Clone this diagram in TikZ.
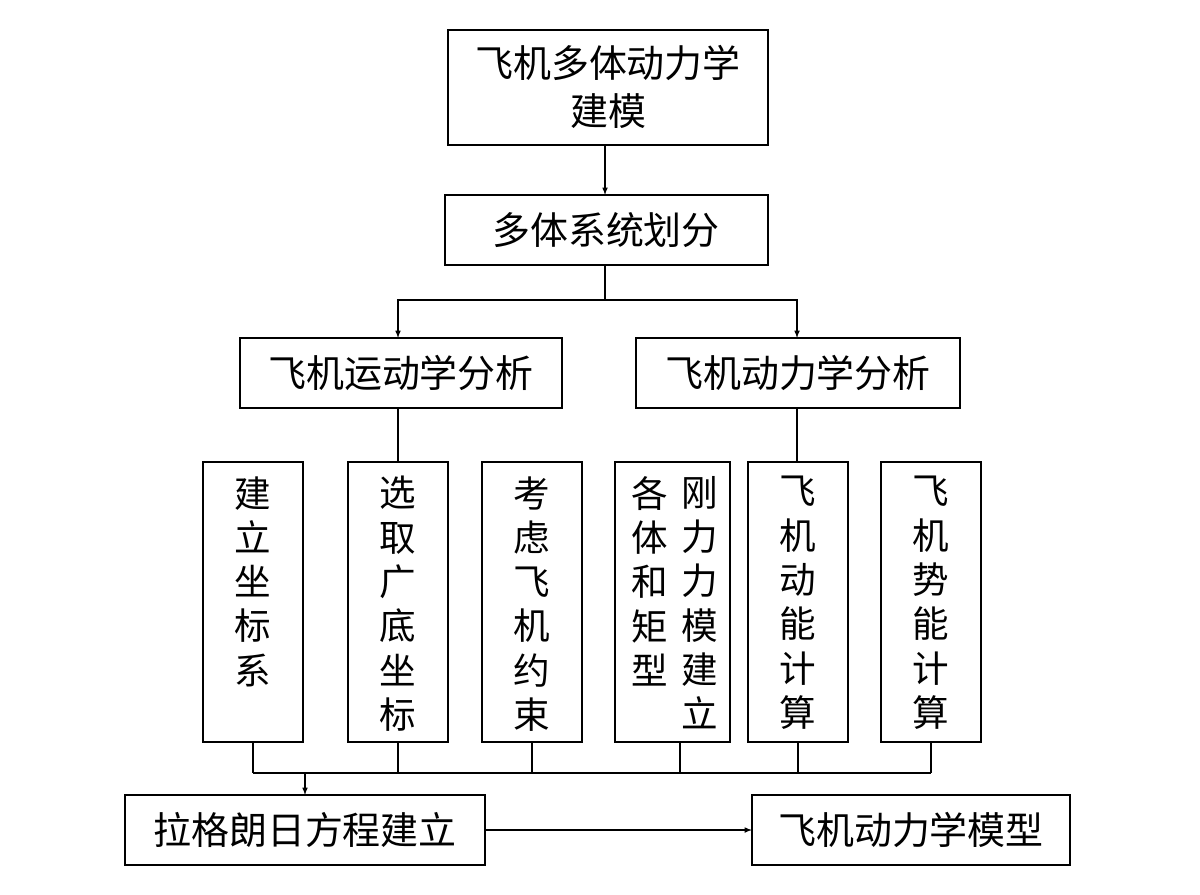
\documentclass[tikz,border=0pt]{standalone}
\usepackage{fontspec}
\setmainfont{Noto Sans CJK SC}
\begin{document}
\begin{tikzpicture}[x=0.025cm,y=-0.025cm,
 bx/.style={draw,line width=1.4pt},
 ln/.style={line width=0.8pt},
 ar/.style={ln,-latex},
 tx/.style={font=\fontsize{27}{34}\selectfont},
 vt/.style={font=\fontsize{26}{31.5}\selectfont,align=center,anchor=north,inner sep=0pt}]
\useasboundingbox (0,0) rectangle (1200,894);
\draw[bx] (448,30) rectangle (768,145); \node[tx,align=center] (a) at (608,87) {飞机多体动力学\\建模};
\coordinate (aB) at (605,145);
\draw[bx] (445,195) rectangle (768,265); \node[tx] (b) at (606,230) {多体系统划分};
\coordinate (bT) at (605,195); \coordinate (bB) at (605,265);
\draw[bx] (240,338) rectangle (562,408); \node[tx] (c) at (401,373) {飞机运动学分析};
\draw[bx] (636,338) rectangle (960,408); \node[tx] (d) at (798,373) {飞机动力学分析};
\draw[ar] (aB) -- (bT);
\coordinate (j) at (605,300);
\draw[ln] (bB) -- (j);
\draw[ar] (j) -- (398,300) -- (398,338);
\draw[ar] (j) -- (797,300) -- (797,338);
\draw[ln] (398,408) -- (398,462);
\draw[ln] (797,408) -- (797,462);
\foreach \xa/\xb/\t in {203/303/{建\\立\\坐\\标\\系},348/448/{选\\取\\广\\底\\坐\\标},482/582/{考\\虑\\飞\\机\\约\\束},748/848/{飞\\机\\动\\能\\计\\算},881/981/{飞\\机\\势\\能\\计\\算}}{
 \draw[bx] (\xa,462) rectangle (\xb,742);
 \node[vt] at ({(\xa+\xb)/2},476) {\t};
 \draw[ln] ({(\xa+\xb)/2},742) -- ({(\xa+\xb)/2},773);}
\draw[bx] (615,462) rectangle (730,742);
\node[vt] at (650,476) {各\\体\\和\\矩\\型};
\node[vt] at (700,476) {刚\\力\\力\\模\\建\\立};
\draw[ln] (680,742) -- (680,773);
\draw[ln] (253,773) -- (931,773);
\draw[bx] (125,795) rectangle (485,865); \node[tx] (e) at (305,830) {拉格朗日方程建立};
\draw[bx] (752,795) rectangle (1070,865); \node[tx] (f) at (911,830) {飞机动力学模型};
\draw[ar] (305,773) -- (305,795);
\draw[ar] (485,830) -- (752,830);
\end{tikzpicture}
\end{document}
